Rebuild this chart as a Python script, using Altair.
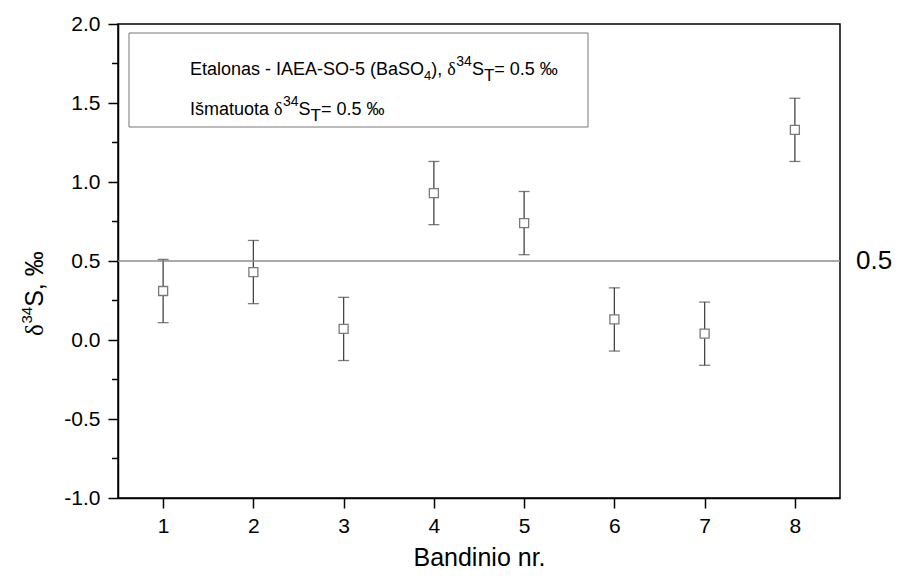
import altair as alt
import pandas as pd

# ---- data ----
samples = [1, 2, 3, 4, 5, 6, 7, 8]
values = [0.31, 0.43, 0.07, 0.93, 0.74, 0.13, 0.04, 1.33]
errors = [0.20, 0.20, 0.20, 0.20, 0.20, 0.20, 0.20, 0.20]
ref_value = [0.5]
ref_label = ["0.5"]
y_major = [-1.0, -0.5, 0.0, 0.5, 1.0, 1.5, 2.0]
y_minor = [-0.75, -0.25, 0.25, 0.75, 1.25, 1.75]
x_ticks = [1, 2, 3, 4, 5, 6, 7, 8]

df = pd.DataFrame({
    "s": samples,
    "v": values,
    "lo": [v - e for v, e in zip(values, errors)],
    "hi": [v + e for v, e in zip(values, errors)],
})
ref_df = pd.DataFrame({"ref": ref_value, "label": ref_label})
minor_df = pd.DataFrame({"m": y_minor})
one = pd.DataFrame({"a": [0]})

W, H = 722, 474
SANS = "Liberation Sans"
SERIF = "Liberation Serif"

xs = alt.Scale(domain=[0.5, 8.5], nice=False, zero=False)
ys = alt.Scale(domain=[-1.0, 2.0], nice=False, zero=False)

x_axis = alt.Axis(values=x_ticks, format="d", tickSize=10, tickWidth=1.5, tickColor="black",
                  domainColor="black", domainWidth=1.5, labelFont=SANS, labelFontSize=21,
                  labelColor="black", labelPadding=7, grid=False,
                  title="Bandinio nr.", titleFont=SANS, titleFontSize=25, titleFontWeight="normal",
                  titleColor="black", titleY=67, titleBaseline="alphabetic")
y_axis = alt.Axis(values=y_major, tickSize=10, tickWidth=1.5, tickColor="black",
                  domainColor="black", domainWidth=1.5, labelFont=SANS, labelFontSize=21,
                  labelColor="black", labelPadding=8, grid=False,
                  labelExpr="replace(format(datum.value, '.1f'), '\u2212', '-')", title=None)


def X(f):
    return alt.X(f, scale=xs, axis=x_axis, title="Bandinio nr.")


def Y(f):
    return alt.Y(f, scale=ys, axis=y_axis, title=None)


base = alt.Chart(df)

errbar = base.mark_rule(color="#444444", strokeWidth=1.3).encode(
    x=X("s:Q"), y=Y("lo:Q"), y2="hi:Q")
cap_lo = base.mark_tick(color="#444444", orient="horizontal", size=11, thickness=1.3).encode(
    x=X("s:Q"), y=Y("lo:Q"))
cap_hi = base.mark_tick(color="#444444", orient="horizontal", size=11, thickness=1.3).encode(
    x=X("s:Q"), y=Y("hi:Q"))

refline = alt.Chart(ref_df).mark_rule(color="#8c8c8c", strokeWidth=1.6).encode(y=Y("ref:Q"))
reflabel = alt.Chart(ref_df).mark_text(align="left", baseline="middle", font=SANS,
                                       fontSize=26, color="black").encode(
    x=alt.value(738), y=Y("ref:Q"), text="label:N")

points = base.mark_square(size=81, fill="white", stroke="#7a7a7a", strokeWidth=1.3,
                          opacity=1, fillOpacity=1).encode(x=X("s:Q"), y=Y("v:Q"))

minor = alt.Chart(minor_df).mark_rule(color="black", strokeWidth=1.5).encode(
    y=Y("m:Q"), x=alt.value(-6), x2=alt.value(0))

# ---- legend box with rich text laid out in runs ----
AW = {' ': 278, '(': 333, ')': 333, ',': 278, '-': 333, '.': 278, '=': 584, 'A': 667, 'B': 667,
      'E': 667, 'I': 278, 'O': 778, 'S': 667, 'T': 611, 'a': 556, 'l': 222, 'm': 833, 'n': 556,
      'o': 556, 's': 500, 'š': 500, 't': 278, 'u': 556, '‰': 1000, 'δ': 500}
for d in "0123456789":
    AW[d] = 556


def tw(t, size):
    return sum(AW.get(c, 556) for c in t) / 1000.0 * size


def runs_layer(runs, x0, y0, angle=0):
    layers = []
    pos = x0 if angle == 0 else y0
    for text, size, off, font in runs:
        if angle == 0:
            enc = dict(x=alt.value(pos), y=alt.value(y0), text=alt.value(text))
            mk = alt.Chart(one).mark_text(align="left", baseline="alphabetic", font=font,
                                          fontSize=size, color="black", dy=off)
            pos += tw(text, size)
        else:
            enc = dict(x=alt.value(x0), y=alt.value(pos), text=alt.value(text))
            mk = alt.Chart(one).mark_text(align="left", baseline="alphabetic", font=font,
                                          fontSize=size, color="black", angle=270, dy=off)
            pos -= tw(text, size)
        layers.append(mk.encode(**enc))
    return layers


legend_rect = alt.Chart(one).mark_rect(fill="white", stroke="#777777", strokeWidth=1).encode(
    x=alt.value(11), x2=alt.value(470), y=alt.value(9), y2=alt.value(103))

line1 = [("Etalonas - IAEA-SO-5 (BaSO", 18, 0, SANS), ("4", 13, 5, SANS), ("), ", 18, 0, SANS),
         ("δ", 18, 0, SERIF), ("34", 14, -9, SANS), ("S", 18, 0, SANS), ("T", 17, 6, SANS),
         ("= 0.5 ‰", 18, 0, SANS)]
line2 = [("Išmatuota ", 18, 0, SANS), ("δ", 18, 0, SERIF), ("34", 14, -9, SANS),
         ("S", 18, 0, SANS), ("T", 17, 6, SANS), ("= 0.5 ‰", 18, 0, SANS)]

ytitle = [("δ", 25, 0, SERIF), ("34", 15, -11, SANS), ("S, ‰", 25, 0, SANS)]

text_layers = runs_layer(line1, 72, 51) + runs_layer(line2, 72, 91) + \
    runs_layer(ytitle, -75, 312, angle=270)

chart = alt.layer(errbar, refline, cap_lo, cap_hi, points, minor, reflabel, legend_rect,
                  *text_layers).properties(
    width=W, height=H,
    autosize=alt.AutoSizeParams(type="none"),
    padding={"left": 110, "top": 16, "right": 52, "bottom": 74},
    background="white",
).configure_view(stroke="black", strokeWidth=1.5)

chart.save("out.html", embed_options={"renderer": "svg", "actions": False})
